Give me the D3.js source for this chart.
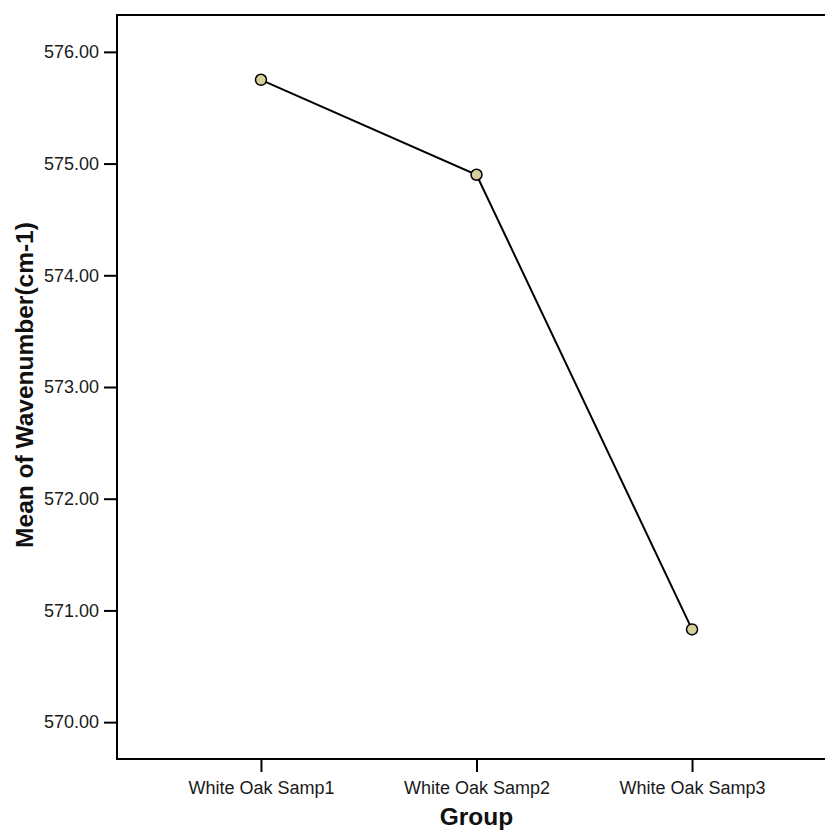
<!DOCTYPE html>
<html><head><meta charset="utf-8">
<script src="https://cdn.jsdelivr.net/npm/d3@7"></script>
<style>body{margin:0;background:#fff}svg{display:block}</style>
</head><body>
<script>
const categories = ["White Oak Samp1","White Oak Samp2","White Oak Samp3"];
const means = [575.75, 574.90, 570.83];
const yTicks = [570, 571, 572, 573, 574, 575, 576];
const xTitle = "Group";
const yTitle = "Mean of Wavenumber(cm-1)";

const W = 825, H = 836;
const pL = 117, pT = 15, pR = 836, pB = 759;
const svg = d3.select("body").append("svg").attr("width", W).attr("height", H);

const x = d3.scalePoint().domain(categories).range([pL, pR]).padding(0.668);
const y = d3.scaleLinear().domain([569.67, 576.33]).range([pB, pT]);

const font = "Liberation Sans, Arial, sans-serif";

svg.append("rect").attr("x", pL).attr("y", pT).attr("width", pR - pL).attr("height", pB - pT)
  .attr("fill", "none").attr("stroke", "#000").attr("stroke-width", 2);

const yAxis = svg.append("g").attr("transform", `translate(${pL},0)`)
  .call(d3.axisLeft(y).tickValues(yTicks).tickSize(13).tickPadding(5).tickFormat(d3.format(".2f")));
yAxis.select(".domain").remove();
yAxis.selectAll(".tick line").attr("stroke", "#000").attr("stroke-width", 2);
yAxis.selectAll(".tick text").attr("font-family", font).attr("font-size", 18).attr("fill", "#1a1a1a");

const xAxis = svg.append("g").attr("transform", `translate(0,${pB})`)
  .call(d3.axisBottom(x).tickSize(13).tickPadding(9));
xAxis.select(".domain").remove();
xAxis.selectAll(".tick line").attr("stroke", "#000").attr("stroke-width", 2);
xAxis.selectAll(".tick text").attr("font-family", font).attr("font-size", 18).attr("fill", "#1a1a1a");

svg.append("text").attr("x", x(categories[1])).attr("y", 825).attr("text-anchor", "middle")
  .attr("font-family", font).attr("font-weight", "bold").attr("font-size", 24.5).attr("fill", "#111").text(xTitle);
svg.append("text").attr("transform", `translate(33,385) rotate(-90)`).attr("text-anchor", "middle")
  .attr("font-family", font).attr("font-weight", "bold").attr("font-size", 24.5).attr("fill", "#111").text(yTitle);

const data = categories.map((c, i) => ({c, v: means[i]}));
svg.append("path").datum(data)
  .attr("d", d3.line().x(d => x(d.c)).y(d => y(d.v)))
  .attr("fill", "none").attr("stroke", "#000").attr("stroke-width", 2);
svg.selectAll("circle.pt").data(data).join("circle").attr("class", "pt")
  .attr("cx", d => x(d.c)).attr("cy", d => y(d.v)).attr("r", 5.5)
  .attr("fill", "#d6d09c").attr("stroke", "#000").attr("stroke-width", 1.5);
</script>
</body></html>
